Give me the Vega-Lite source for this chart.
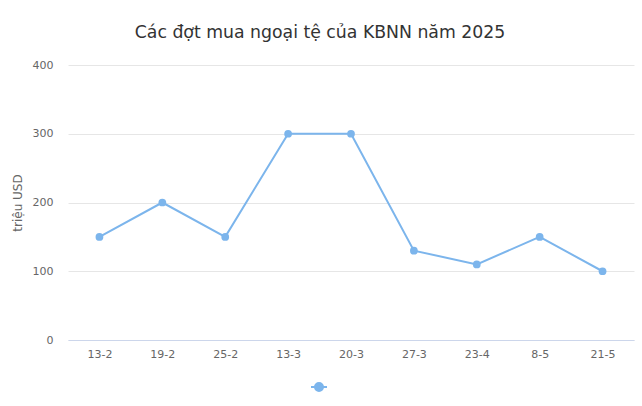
{
  "$schema": "https://vega.github.io/schema/vega-lite/v6.json",
  "autosize": {"type": "none"},
  "width": 566,
  "height": 275,
  "padding": {"left": 68, "top": 65, "right": 8, "bottom": 66},
  "background": "white",
  "title": {
    "text": "Các đợt mua ngoại tệ của KBNN năm 2025",
    "font": "DejaVu Sans",
    "fontSize": 17.3,
    "fontWeight": "normal",
    "color": "#333333",
    "anchor": "middle",
    "dx": -31,
    "offset": 18
  },
  "data": {
    "values": [
      {"date": "13-2", "value": 150, "s": "KBNN"},
      {"date": "19-2", "value": 200, "s": "KBNN"},
      {"date": "25-2", "value": 150, "s": "KBNN"},
      {"date": "13-3", "value": 300, "s": "KBNN"},
      {"date": "20-3", "value": 300, "s": "KBNN"},
      {"date": "27-3", "value": 130, "s": "KBNN"},
      {"date": "23-4", "value": 110, "s": "KBNN"},
      {"date": "8-5", "value": 150, "s": "KBNN"},
      {"date": "21-5", "value": 100, "s": "KBNN"}
    ]
  },
  "mark": {"type": "line", "strokeWidth": 2, "point": {"size": 60, "filled": true, "opacity": 1}},
  "encoding": {
    "x": {
      "field": "date",
      "type": "ordinal",
      "sort": null,
      "scale": {"type": "point", "padding": 0.5},
      "axis": {
        "title": null,
        "labelAngle": 0,
        "labelFont": "DejaVu Sans",
        "labelFontSize": 11,
        "labelColor": "#666666",
        "labelPadding": 8,
        "ticks": false,
        "domainColor": "#ccd6eb",
        "domainWidth": 1,
        "grid": false
      }
    },
    "y": {
      "field": "value",
      "type": "quantitative",
      "scale": {"domain": [0, 400]},
      "axis": {
        "title": "triệu USD",
        "titleFont": "DejaVu Sans",
        "titleFontSize": 12,
        "titleFontWeight": "normal",
        "titleColor": "#666666",
        "titlePadding": 8,
        "values": [0, 100, 200, 300, 400],
        "labelFont": "DejaVu Sans",
        "labelFontSize": 11,
        "labelColor": "#666666",
        "labelPadding": 15,
        "ticks": false,
        "domain": false,
        "gridColor": "#e6e6e6",
        "gridWidth": 1
      }
    },
    "color": {
      "field": "s",
      "type": "nominal",
      "scale": {"range": ["#7cb5ec"]},
      "legend": {
        "title": null,
        "orient": "none",
        "legendX": 242,
        "legendY": 313,
        "labelExpr": "''",
        "symbolType": "M-1,0L1,0M-0.5,0A0.5,0.5 0 1,0 0.5,0A0.5,0.5 0 1,0 -0.5,0Z",
        "symbolSize": 256,
        "symbolStrokeWidth": 2,
        "symbolFillColor": "#7cb5ec",
        "symbolStrokeColor": "#7cb5ec",
        "padding": 0
      }
    }
  },
  "config": {"view": {"stroke": null}}
}
